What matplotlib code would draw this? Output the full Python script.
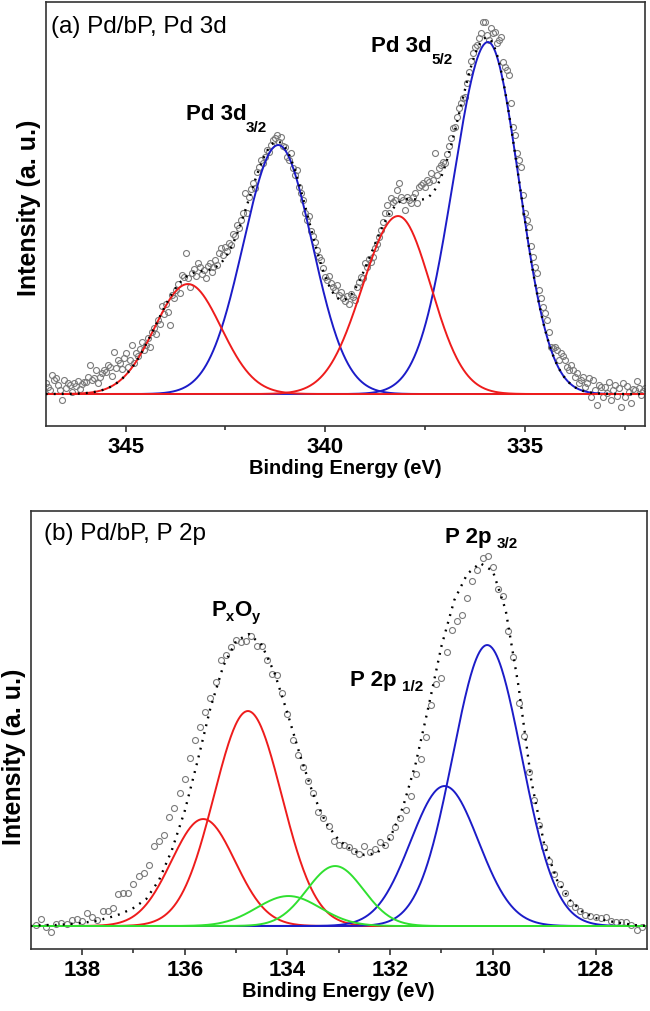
import numpy as np
import matplotlib.pyplot as plt

plt.rcParams['font.family'] = ['Liberation Sans', 'DejaVu Sans']

# ---- (a) Pd 3d : measured points (binding energy step 0.05 eV, 347 -> 332)
be_a = np.linspace(347.0, 332.0, 301)
cps_a = np.array([
    11, 7, 4, 19, 14, 16, 9, 4, -6, 14, 6, 11, 9, 2, 11, 8, 13, 5, 10, 12,
    12, 17, 29, 14, 16, 24, 11, 17, 21, 24, 22, 29, 27, 18, 42, 26, 34, 31, 25, 36,
    41, 27, 34, 49, 31, 41, 38, 45, 52, 44, 49, 56, 47, 62, 66, 60, 74, 70, 88, 80,
    90, 82, 69, 99, 96, 104, 110, 101, 119, 117, 141, 116, 107, 121, 125, 118, 131, 127, 120, 124,
    116, 128, 131, 122, 127, 134, 129, 141, 146, 139, 147, 143, 151, 149, 160, 158, 169, 166, 174, 181,
    201, 181, 197, 205, 211, 206, 222, 227, 234, 231, 237, 244, 242, 249, 254, 256, 259, 252, 257, 248,
    247, 237, 234, 241, 226, 219, 224, 207, 201, 194, 181, 174, 178, 163, 158, 152, 144, 137, 134, 126,
    117, 114, 118, 111, 107, 104, 109, 99, 102, 96, 93, 98, 90, 100, 97, 94, 107, 112, 117, 116,
    131, 127, 135, 132, 137, 146, 150, 157, 164, 172, 181, 189, 181, 196, 192, 194, 204, 211, 197, 194,
    184, 197, 194, 191, 197, 201, 191, 207, 209, 211, 207, 214, 212, 221, 214, 241, 219, 226, 229, 232,
    231, 240, 248, 256, 266, 267, 277, 286, 291, 296, 297, 311, 322, 333, 341, 347, 349, 356, 361, 372,
    372, 359, 354, 366, 361, 362, 351, 354, 357, 332, 327, 324, 319, 291, 267, 259, 241, 234, 227, 199,
    181, 174, 167, 148, 137, 127, 121, 104, 96, 87, 81, 74, 62, 47, 46, 47, 44, 34, 41, 38,
    34, 27, 24, 29, 24, 17, 21, 11, 14, 17, 7, 11, 16, -3, 14, 4, -11, 9, 7, -3,
    7, 1, 12, -6, 4, 9, -2, 6, -13, 11, -3, 8, 2, -9, 5, 4, 13, 6, -1, 3,
    6])

# fitted components: centre, height, width on high-BE side, width on low-BE side
pos_a = [343.44, 341.18, 338.18, 335.93]
amp_a = [110, 249, 178, 352]
sig_hi_a = [0.83, 0.87, 0.89, 0.87]
sig_lo_a = [0.83, 0.85, 0.82, 0.775]
col_a = ['#ee1c1c', '#1c1cc8', '#ee1c1c', '#1c1cc8']
order_a = [1, 3, 0, 2]   # blue first, red on top

# ---- (b) P 2p : measured points (step 0.1 eV, 138.9 -> 127.1)
be_b = np.linspace(138.9, 127.1, 119)
cps_b = np.array([
    1, 7, -1, -6, 2, 3, 2, 6, 7, 5,
    13, 9, 6, 15, 15, 18, 32, 33, 33, 42,
    50, 53, 61, 80, 85, 91, 109, 118, 133, 147,
    168, 186, 199, 214, 228, 244, 266, 271, 279, 286,
    284, 285, 290, 280, 280, 266, 252, 251, 233, 212,
    186, 171, 159, 145, 133, 114, 108, 100, 85, 81,
    81, 79, 75, 72, 80, 74, 77, 84, 81, 89,
    99, 108, 116, 130, 152, 167, 189, 221, 242, 248,
    274, 296, 305, 311, 328, 345, 356, 368, 370, 359,
    337, 330, 295, 269, 223, 190, 154, 126, 101, 79,
    65, 52, 42, 33, 23, 19, 15, 11, 10, 9,
    8, 9, 5, 4, 4, 4, 1, -4, -1])

# envelope (dotted) read every 0.25 eV
env_be_b = np.linspace(139.0, 127.0, 49)
env_b = [0, 1, 1, 2, 3, 5, 8, 12, 18, 27, 46, 76, 115, 165, 218, 260, 285,
         292, 281, 253, 213, 170, 132, 103, 86, 76, 71, 73, 88, 119, 163,
         220, 280, 326, 352, 363, 355, 316, 240, 145, 82, 46, 26, 14, 8, 5, 3, 1, 0]

pos_b = [135.64, 134.77, 130.94, 130.11, 133.98, 133.07]
amp_b = [107, 215, 140, 281, 30, 60]
sig_b = [0.62, 0.66, 0.66, 0.67, 0.62, 0.55]
col_b = ['#ee1c1c', '#ee1c1c', '#1c1cc8', '#1c1cc8', '#30e030', '#30e030']


def peak(x, c, h, s_hi, s_lo):
    s = np.where(x > c, s_hi, s_lo)
    return h * np.exp(-(x - c)**2 / (2 * s**2))


def style(ax, xlim, major, minor, ylim):
    ax.set_xlim(*xlim)
    ax.set_ylim(*ylim)
    ax.set_xticks(major)
    ax.set_xticks(minor, minor=True)
    ax.set_yticks([])
    ax.tick_params(axis='x', which='major', length=4.5, width=1.1, pad=3.5,
                   labelsize=16, color='#222222')
    ax.tick_params(axis='x', which='minor', length=3.2, width=1.1, color='#222222')
    for t in ax.get_xticklabels():
        t.set_fontweight('bold')
    for s in ax.spines.values():
        s.set_linewidth(1.2)
        s.set_color('#333333')
    ax.set_xlabel('Binding Energy (eV)', fontsize=14.5, fontweight='bold', labelpad=0.5)
    ax.set_ylabel('Intensity (a. u.)', fontsize=18, fontweight='bold')


def label(ax, x, y, parts, dy, gap=0, size=16, subsize=11):
    # parts alternate main text / subscript
    main = ax.text(x, y, parts[0], fontsize=size, fontweight='bold', va='baseline', ha='left')
    prev = main
    for i, p in enumerate(parts[1:]):
        if i % 2 == 0:
            prev = ax.annotate(p, xy=(1, 0), xycoords=prev, xytext=(gap, dy),
                               textcoords='offset points', fontsize=subsize,
                               fontweight='bold', va='center', ha='left')
        else:
            prev = ax.annotate(p, xy=(1, 0), xycoords=(prev, main), xytext=(0, 0),
                               textcoords='offset points', fontsize=size,
                               fontweight='bold', va='bottom', ha='left')


fig = plt.figure(figsize=(6.5, 10.11), dpi=100)

# panel (a)
ax1 = fig.add_axes([0.0703, 0.5786, 0.922, 0.4194])
xa = np.linspace(347.2, 331.8, 800)
ax1.plot(be_a, cps_a, 'o', ms=4.3, mfc='none', mec='#7a7a7a', mew=0.8, zorder=1)
total_a = np.zeros_like(xa)
for i in order_a:
    yk = peak(xa, pos_a[i], amp_a[i], sig_hi_a[i], sig_lo_a[i])
    total_a += yk
    ax1.plot(xa, yk, color=col_a[i], lw=1.4, zorder=2)
ax1.plot(xa, total_a, color='black', lw=1.7, ls=(0, (0.8, 2.6)), zorder=3)
style(ax1, (347, 332), [345, 340, 335], [342.5, 337.5, 332.5], (-32, 392))
ax1.yaxis.set_label_coords(-0.008, 0.515)
ax1.text(0.009, 0.941, '(a) Pd/bP, Pd 3d', transform=ax1.transAxes,
         fontsize=17.5, va='center', ha='left')
label(ax1, 343.50, 274, ['Pd 3d', '3/2'], dy=-2.0)
label(ax1, 338.85, 342, ['Pd 3d', '5/2'], dy=-2.0)

# panel (b)
ax2 = fig.add_axes([0.0472, 0.0613, 0.948, 0.4332])
xb = np.linspace(139.2, 126.8, 800)
ax2.plot(be_b, cps_b, 'o', ms=4.3, mfc='none', mec='#7a7a7a', mew=0.8, zorder=1)
for i in range(len(pos_b)):
    yk = peak(xb, pos_b[i], amp_b[i], sig_b[i], sig_b[i])
    ax2.plot(xb, yk, color=col_b[i], lw=1.4, zorder=2)
ax2.plot(env_be_b, env_b, color='black', lw=1.7, ls=(0, (0.8, 2.6)), zorder=3)
style(ax2, (139, 127), [138, 136, 134, 132, 130, 128], [137, 135, 133, 131, 129], (-23, 415))
ax2.yaxis.set_label_coords(-0.008, 0.44)
ax2.text(0.022, 0.947, '(b) Pd/bP, P 2p', transform=ax2.transAxes,
         fontsize=17.5, va='center', ha='left')
label(ax2, 135.48, 310, ['P', 'x', 'O', 'y'], dy=3.0, subsize=10.5)
label(ax2, 132.79, 240, ['P 2p', '1/2'], dy=2.8, gap=4.3)
label(ax2, 130.94, 383, ['P 2p', '3/2'], dy=2.8, gap=4.3)

fig.savefig('out.png', dpi=100)
